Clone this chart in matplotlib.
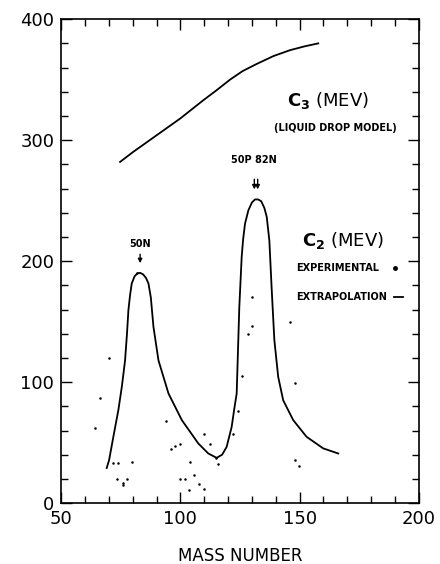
import matplotlib
matplotlib.use("Agg")
import matplotlib.pyplot as plt
from matplotlib.ticker import MultipleLocator

# C3 liquid drop model curve
c3_mass = [74.7, 80, 90, 100, 109.6, 115, 120.8, 126, 132, 139, 146, 152, 157.8]
c3_mev = [282, 290, 304, 318, 333, 341, 350, 357, 363, 369.5, 374.4, 377.5, 380]

# C2 extrapolation curve
c2_mass = [69.1, 70.1, 72.0, 74.0, 75.5, 76.8, 77.6, 78.2, 78.9, 79.6, 80.8, 82.0,
           83.1, 84.4, 85.6, 86.6, 87.6, 88.7, 90.8, 95.0, 100.6, 107.5, 111.7,
           115.2, 117.5, 119.4, 121.5, 122.6, 123.6, 124.7, 125.7, 126.3, 127.1,
           128.5, 130.0, 131.3, 132.6, 133.9, 135.2, 136.2, 137.3, 138.3, 139.4,
           141.0, 143.1, 147.3, 152.9, 159.9, 166.2]
c2_mev = [29, 35.5, 56, 77, 97, 118, 140, 159.5, 172, 181.6, 187.5, 190,
          190.3, 189, 186, 181.6, 170, 145.7, 118, 90.6, 68.6, 49.3, 41,
          37.4, 40, 46.5, 63, 78, 90.6, 162, 203.6, 218, 231,
          242, 248.5, 251, 251, 249.5, 244, 236.6, 217, 176, 134.7,
          104.4, 85, 68.6, 54.8, 45.2, 41]

# C2 experimental points
exp_mass = [64.2, 66.1, 70.0, 71.9, 73.9, 73.6, 75.8, 76.1, 77.8, 79.9, 81.9,
            94.0, 96.0, 97.9, 99.9, 100.0, 102.0, 103.7, 104.0, 105.7, 107.8,
            109.8, 110.0, 112.3, 115.1, 115.9, 122.0, 124.2, 125.9, 128.3,
            129.9, 129.9, 146.1, 148.0, 148.2, 149.8]
exp_mev = [62, 87, 120, 33, 33, 20, 17, 14.6, 20, 34, 190,
           68, 45, 47, 48.5, 20, 20, 10.5, 34, 23.4, 15.4,
           11.8, 57, 48.5, 37.4, 32, 57, 76, 105, 140,
           146, 170, 150, 99, 36, 30.6]

fig = plt.figure(figsize=(4.4, 5.64), dpi=100)
ax = fig.add_axes([0.139, 0.108, 0.813, 0.858])

ax.plot(c3_mass, c3_mev, color="black", lw=1.3)
ax.plot(c2_mass, c2_mev, color="black", lw=1.3)
ax.plot(exp_mass, exp_mev, "o", color="black", ms=1.8, mec="none")

ax.set_xlim(50, 200)
ax.set_ylim(0, 400)
ax.xaxis.set_major_locator(MultipleLocator(50))
ax.xaxis.set_minor_locator(MultipleLocator(10))
ax.yaxis.set_major_locator(MultipleLocator(100))
ax.yaxis.set_minor_locator(MultipleLocator(20))
ax.tick_params(which="both", direction="in", top=True, right=True, width=1)
ax.tick_params(which="major", length=8, labelsize=13, pad=5)
ax.tick_params(which="minor", length=5)
for s in ax.spines.values():
    s.set_linewidth(1.2)

ax.set_xlabel("MASS NUMBER", fontsize=12, labelpad=14)

ax.text(161.8, 333, r"$\mathbf{C_3}$ (MEV)", fontsize=13, ha="center", va="center")
ax.text(165, 310, "(LIQUID DROP MODEL)", fontsize=7, fontweight="bold",
        ha="center", va="center")
ax.text(168, 217, r"$\mathbf{C_2}$ (MEV)", fontsize=13, ha="center", va="center")
ax.text(148.5, 194, "EXPERIMENTAL", fontsize=7, fontweight="bold", va="center")
ax.plot([190], [194], "o", color="black", ms=2.5)
ax.text(148.5, 170, "EXTRAPOLATION", fontsize=7, fontweight="bold", va="center")
ax.plot([189.5, 193.5], [170, 170], color="black", lw=1.3)

ax.text(83, 214, "50N", fontsize=7, fontweight="bold", ha="center", va="center")
ax.annotate("", xy=(83.1, 196), xytext=(83.1, 208),
            arrowprops=dict(arrowstyle="-|>", color="black", lw=1, mutation_scale=6))
ax.text(131, 284, "50P 82N", fontsize=7, fontweight="bold", ha="center", va="center")
for xa in (131.0, 132.4):
    ax.annotate("", xy=(xa, 257), xytext=(xa, 270),
                arrowprops=dict(arrowstyle="-|>", color="black", lw=1, mutation_scale=6))

fig.savefig("out.png", dpi=100)
